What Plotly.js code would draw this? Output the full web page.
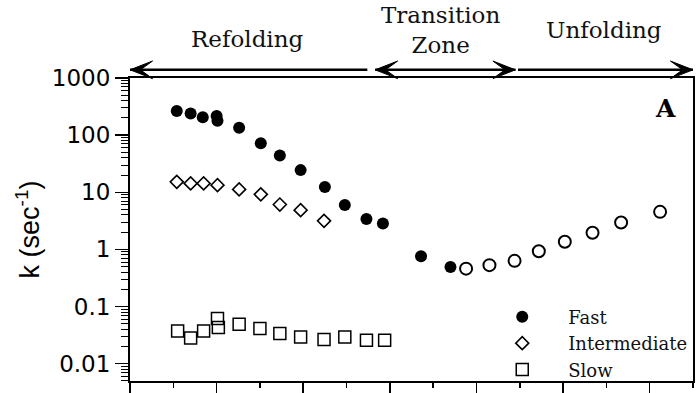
<!DOCTYPE html>
<html>
<head>
<meta charset="utf-8">
<script src="https://cdn.plot.ly/plotly-3.0.1.min.js"></script>
<style>
  html, body { margin: 0; padding: 0; background: #fff; }
  #chart { width: 696px; height: 393px; }
</style>
</head>
<body>
<div id="chart"></div>
<script>
// Denaturant concentration (x) and observed rate constants k (sec^-1)
const fastX = [0.54, 0.70, 0.84, 1.00, 1.01, 1.26, 1.51, 1.73, 1.97, 2.25, 2.48, 2.73, 2.92, 3.36, 3.70];
const fastK = [264, 240, 205, 216, 179, 135, 72, 44, 24.4, 12.4, 6.0, 3.4, 2.85, 0.76, 0.49];

const unfoldX = [3.88, 4.15, 4.44, 4.72, 5.02, 5.34, 5.67, 6.12];
const unfoldK = [0.46, 0.53, 0.63, 0.93, 1.36, 1.95, 2.96, 4.54];

const interX = [0.54, 0.70, 0.85, 1.01, 1.26, 1.51, 1.73, 1.97, 2.24];
const interK = [15.2, 14.3, 14.3, 13.3, 11.2, 9.2, 6.1, 4.86, 3.16];

const slowX = [0.55, 0.70, 0.85, 1.01, 1.02, 1.26, 1.50, 1.73, 1.97, 2.24, 2.48, 2.73, 2.94];
const slowK = [0.0373, 0.0281, 0.0373, 0.0615, 0.0428, 0.0489, 0.0411, 0.0336, 0.0293, 0.0264, 0.0293, 0.0256, 0.0256];

const seriesNames = ['Fast', 'Intermediate', 'Slow'];
const yTickVals = [0.01, 0.1, 1, 10, 100, 1000];
const yTickText = ['0.01', '0.1', '1', '10', '100', '1000'];

// Region labels along the top, and the x-span of each region's arrow
const regionLabels = ['Refolding', 'Transition<br>Zone', 'Unfolding'];
const regionLabelX = [1.36, 3.58, 5.47];
const regionLabelY = [1.130, 1.157, 1.160];
const arrowSpans = [[0, 2.74], [2.83, 4.45], [4.48, 6.5]];
const arrowHeads = [['start'], ['start', 'end'], ['end']];

const serif = 'DejaVu Serif, Liberation Serif, serif';
const sans = 'DejaVu Sans, Liberation Sans, sans-serif';

const traces = [
  {
    x: fastX, y: fastK, name: seriesNames[0], type: 'scatter', mode: 'markers',
    marker: { symbol: 'circle', size: 12, color: '#000' }
  },
  {
    x: interX, y: interK, name: seriesNames[1], type: 'scatter', mode: 'markers',
    marker: { symbol: 'diamond-open', size: 10, color: '#000', line: { width: 1.6 } }
  },
  {
    x: slowX, y: slowK, name: seriesNames[2], type: 'scatter', mode: 'markers',
    marker: { symbol: 'square-open', size: 12, color: '#000', line: { width: 1.5 } }
  },
  {
    x: unfoldX, y: unfoldK, name: 'Fast (unfolding)', type: 'scatter', mode: 'markers',
    showlegend: false,
    marker: { symbol: 'circle-open', size: 12, color: '#000', line: { width: 2 } }
  }
];

const annotations = [];
regionLabels.forEach((t, i) => {
  annotations.push({
    text: t, x: regionLabelX[i], y: regionLabelY[i], xref: 'x', yref: 'paper',
    xanchor: 'center', yanchor: 'middle', showarrow: false,
    font: { family: serif, size: 23, color: '#111' }
  });
});
annotations.push({
  text: '<b>A</b>', x: 6.18, y: 0.90, xref: 'x', yref: 'paper', showarrow: false,
  xanchor: 'center', yanchor: 'middle', font: { family: serif, size: 25, color: '#000' }
});

// Arrow shafts and barbed heads (x in data units, y in paper units)
const arrowY = 1.027;
const headLen = 0.26;   // along x, data units
const headHalf = 0.029; // along y, paper units
const notch = 0.12;
function head(tipX, dir) {
  const bx = tipX + dir * headLen, nx = tipX + dir * notch;
  return `M${tipX},${arrowY} L${bx},${arrowY + headHalf} L${nx},${arrowY} L${bx},${arrowY - headHalf} Z`;
}
const shapes = [];
arrowSpans.forEach((s, i) => {
  shapes.push({ type: 'line', xref: 'x', yref: 'paper', x0: s[0], x1: s[1], y0: arrowY, y1: arrowY,
    line: { color: '#000', width: 2.5 } });
  arrowHeads[i].forEach(h => {
    const tip = h === 'start' ? s[0] : s[1];
    shapes.push({ type: 'path', xref: 'x', yref: 'paper', path: head(tip, h === 'start' ? 1 : -1),
      fillcolor: '#000', line: { color: '#000', width: 1 } });
  });
});

const layout = {
  width: 696, height: 393,
  margin: { l: 130, r: 3, t: 78, b: 12, autoexpand: false },
  paper_bgcolor: '#fff', plot_bgcolor: '#fff',
  showlegend: true,
  legend: {
    x: 0.615, y: 0.272, xanchor: 'left', yanchor: 'top',
    bgcolor: 'rgba(0,0,0,0)', itemwidth: 82,
    font: { family: serif, size: 18, color: '#111' }
  },
  xaxis: {
    range: [0, 6.5], showgrid: false, zeroline: false,
    showline: true, linecolor: '#000', linewidth: 2, mirror: true,
    ticks: 'outside', tick0: 0, dtick: 1, ticklen: 10, tickwidth: 1.5, tickcolor: '#000',
    minor: { ticks: 'outside', dtick: 0.5, tick0: 0, ticklen: 5, tickwidth: 1.5, tickcolor: '#000', showgrid: false },
    showticklabels: false
  },
  yaxis: {
    type: 'log', range: [-2.304, 3], showgrid: false, zeroline: false,
    showline: true, linecolor: '#000', linewidth: 2, mirror: true,
    ticks: 'outside', tickvals: yTickVals, ticktext: yTickText,
    ticklen: 13, tickwidth: 1.5, tickcolor: '#000',
    minor: { ticks: 'outside', dtick: 'D1', ticklen: 7, tickwidth: 1, tickcolor: '#000', showgrid: false },
    tickfont: { family: sans, size: 23, color: '#000' },
    title: { text: 'k (sec<sup>-1</sup>)', font: { family: 'Liberation Sans, Arial, sans-serif', size: 27, color: '#000' }, standoff: 4 }
  },
  shapes: shapes,
  annotations: annotations
};

Plotly.newPlot('chart', traces, layout, { staticPlot: true, displayModeBar: false });
</script>
</body>
</html>
